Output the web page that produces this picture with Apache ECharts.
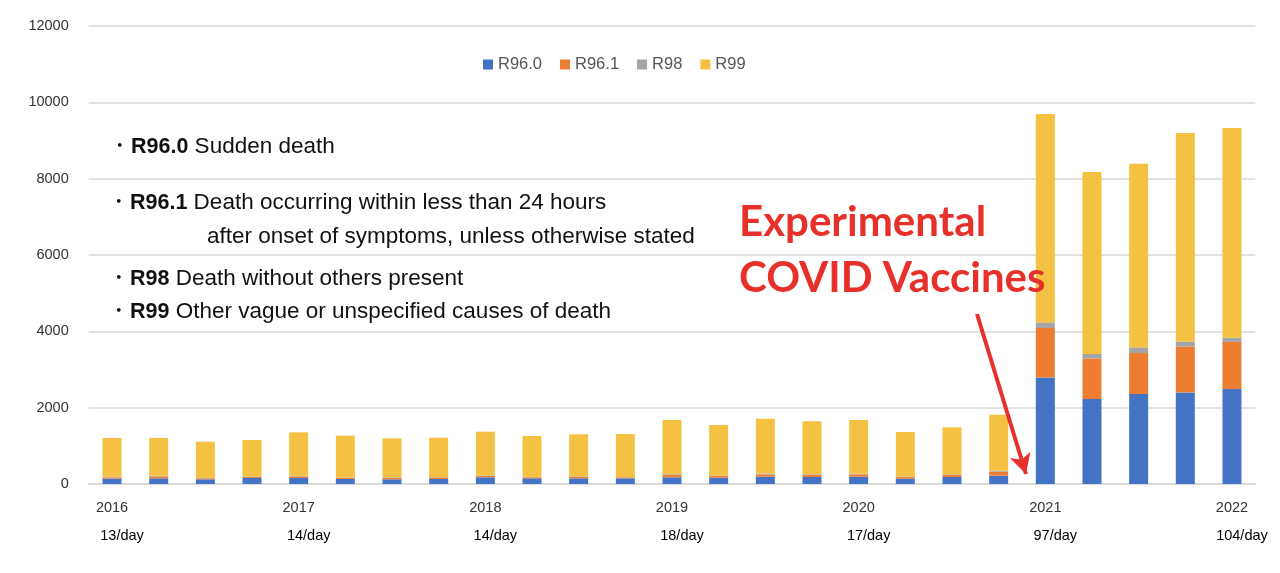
<!DOCTYPE html>
<html>
<head>
<meta charset="utf-8">
<script src="https://cdn.jsdelivr.net/npm/echarts@6/dist/echarts.min.js"></script>
<style>
  html, body { margin: 0; padding: 0; background: #fff; }
  #chart { width: 1280px; height: 573px; }
</style>
</head>
<body>
<div id="chart"></div>
<script>
// quarterly, 2016 Q1 .. 2022 Q1
const quarters = [
  '2016 Q1', '2016 Q2', '2016 Q3', '2016 Q4',
  '2017 Q1', '2017 Q2', '2017 Q3', '2017 Q4',
  '2018 Q1', '2018 Q2', '2018 Q3', '2018 Q4',
  '2019 Q1', '2019 Q2', '2019 Q3', '2019 Q4',
  '2020 Q1', '2020 Q2', '2020 Q3', '2020 Q4',
  '2021 Q1', '2021 Q2', '2021 Q3', '2021 Q4',
  '2022 Q1'
]
const yearTicks = ['2016', '2017', '2018', '2019', '2020', '2021', '2022']
const perDay = ['13/day', '14/day', '14/day', '18/day', '17/day', '97/day', '104/day']

const r960 = [140, 148, 122, 157, 157, 131, 122, 131, 175, 148, 148, 148, 175, 166, 192, 183, 192, 140, 183, 218, 2793, 2227, 2358, 2400, 2489]
const r961 = [35, 50, 26, 30, 44, 30, 44, 40, 35, 30, 44, 26, 60, 44, 61, 61, 61, 44, 52, 105, 1294, 1064, 1074, 1197, 1231]
const r98 = [15, 15, 10, 10, 15, 10, 10, 10, 15, 10, 10, 10, 20, 15, 20, 15, 15, 15, 20, 25, 147, 115, 147, 131, 113]
const r99 = [1015, 992, 950, 956, 1138, 1095, 1021, 1032, 1145, 1070, 1100, 1126, 1425, 1321, 1438, 1383, 1409, 1163, 1230, 1468, 5460, 4768, 4813, 5468, 5494]

const seriesNames = ['R96.0', 'R96.1', 'R98', 'R99']
const colors = ['#4472C4', '#ED7D31', '#A5A5A5', '#F5C142']

const chart = echarts.init(document.getElementById('chart'))

function bar(name, data, color) {
  return {
    name: name,
    type: 'bar',
    stack: 'total',
    barWidth: 19,
    itemStyle: { color: color },
    data: data
  }
}

const series = [
  bar(seriesNames[0], r960, colors[0]),
  bar(seriesNames[1], r961, colors[1]),
  bar(seriesNames[2], r98, colors[2]),
  bar(seriesNames[3], r99, colors[3])
]
// red arrow pointing at 2021
series[3].markLine = {
  silent: true,
  animation: false,
  symbol: ['none', 'arrow'],
  symbolSize: [16, 20],
  label: { show: false },
  lineStyle: { color: '#E8302A', width: 4, type: 'solid' },
  data: [[{ x: 977, y: 314 }, { x: 1026, y: 474 }]]
}

const noteFont = '22.5px "Liberation Sans", Arial, sans-serif'
function note(text, x, y) {
  return {
    type: 'text',
    x: x,
    y: y,
    z: 100,
    style: {
      text: text,
      font: noteFont,
      fill: '#111',
      verticalAlign: 'middle',
      rich: {
        b: { fontWeight: 'bold', fontSize: 21.5, fontFamily: 'Liberation Sans', fill: '#111' }
      }
    }
  }
}

function redText(text, y) {
  return {
    type: 'text',
    x: 739,
    y: y,
    z: 100,
    style: {
      text: text,
      font: 'bold 42px Lato, "Open Sans", sans-serif',
      fill: '#E8302A',
      verticalAlign: 'middle'
    }
  }
}

chart.setOption({
  animation: false,
  color: colors,
  grid: {
    left: 88.7,
    right: 24.7,
    top: 26,
    bottom: 89,
    containLabel: false
  },
  legend: {
    data: seriesNames,
    top: 51,
    left: 478,
    itemWidth: 10,
    itemHeight: 10,
    itemGap: 18,
    icon: 'rect',
    textStyle: { fontSize: 16.5, color: '#555', fontFamily: 'Liberation Sans' }
  },
  xAxis: {
    type: 'category',
    data: quarters,
    axisLine: { lineStyle: { color: '#d9d9d9', width: 1.5 } },
    axisTick: { show: false },
    axisLabel: {
      interval: 3,
      margin: 14,
      formatter: (v, i) => {
        const k = i / 4
        return '{y|' + yearTicks[k] + '}\n{d|' + perDay[k] + '}'
      },
      rich: {
        y: { fontSize: 14.5, color: '#333', fontFamily: 'Liberation Sans', lineHeight: 20 },
        d: { fontSize: 14.5, color: '#000', fontFamily: 'Liberation Sans', lineHeight: 36, padding: [0, 0, 0, 20] }
      }
    }
  },
  yAxis: {
    type: 'value',
    min: 0,
    max: 12000,
    interval: 2000,
    axisLine: { show: false },
    axisTick: { show: false },
    axisLabel: {
      fontSize: 14.5,
      color: '#333',
      margin: 20,
      fontFamily: 'Liberation Sans',
      formatter: v => String(v)
    },
    splitLine: { lineStyle: { color: '#d9d9d9', width: 1.5 } }
  },
  graphic: [
    note('・{b|R96.0} Sudden death', 108, 147),
    note('・{b|R96.1} Death occurring within less than 24 hours', 107, 203),
    note('after onset of symptoms, unless otherwise stated', 207, 237),
    note('・{b|R98} Death without others present', 107, 279),
    note('・{b|R99} Other vague or unspecified causes of death', 107, 312),
    redText('Experimental', 222),
    redText('COVID Vaccines', 278)
  ],
  series: series
})
</script>
</body>
</html>
